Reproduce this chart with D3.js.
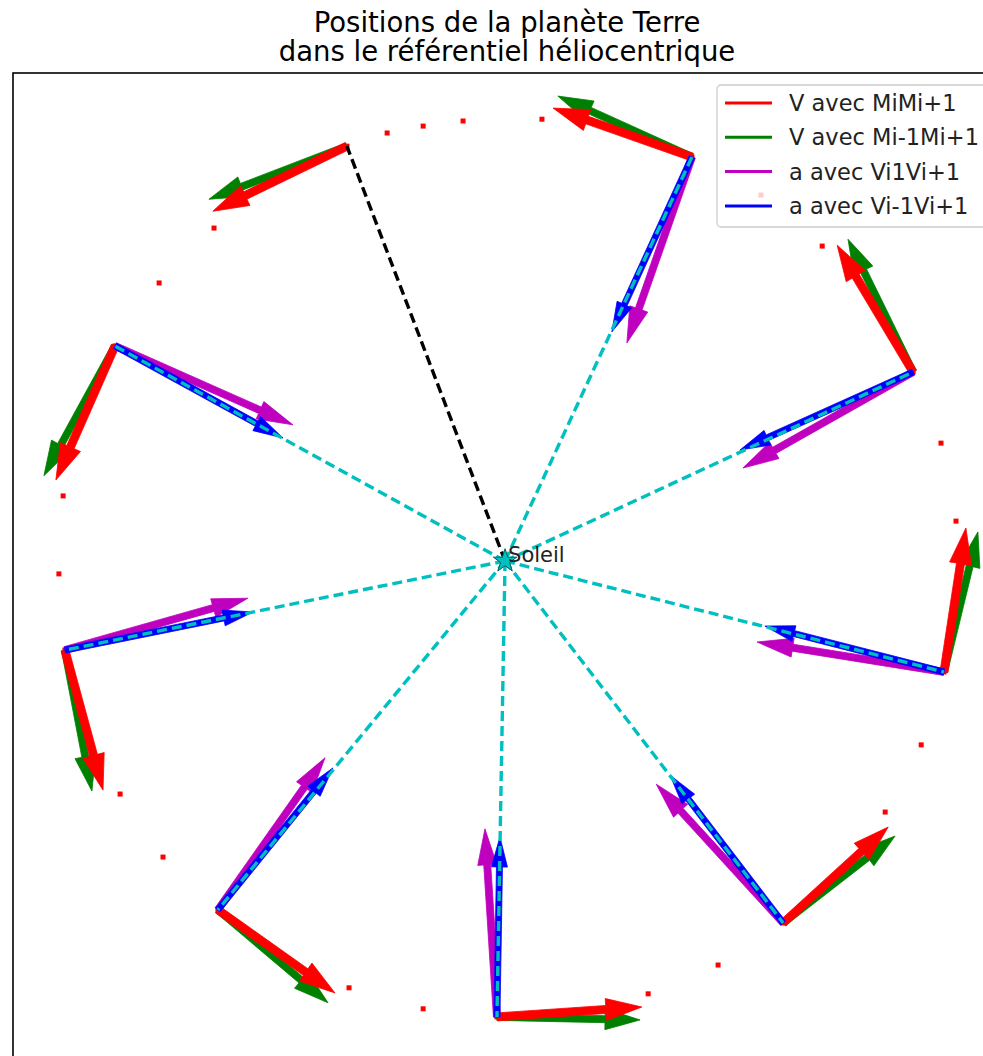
<!DOCTYPE html>
<html>
<head>
<meta charset="utf-8">
<script src="https://cdn.jsdelivr.net/npm/d3@7"></script>
<style>
  body { margin: 0; background: #fff; }
  text { font-family: "DejaVu Sans", sans-serif; }
</style>
</head>
<body>
<div id="chart"></div>
<script>
// positions en Gm (1e9 m), Soleil a l'origine
const soleil = [0, 0];

// positions successives de la Terre (sens trigo)
const orbite = [
  [-52.7, 138.3], [-97.0, 111.0], [-115.3, 92.7], [-130.0, 71.7],
  [-147.3, 21.7], [-148.7, -4.3], [-146.7, -29.7], [-128.3, -77.7],
  [-114.0, -98.7], [-95.7, -116.3], [-52.0, -142.3], [-27.3, -149.3],
  [-2.7, -152.0], [47.7, -144.3], [71.0, -134.7], [92.7, -120.7],
  [126.7, -83.7], [138.7, -61.3], [146.3, -37.0], [150.3, 13.3],
  [145.3, 39.3], [136.0, 63.0], [105.7, 105.0], [85.3, 122.0],
  [62.3, 134.7], [12.3, 147.3], [-14.0, 146.7], [-27.3, 145.0],
  [-39.3, 142.7]
];

// points ou les vecteurs sont traces
const pointsM = [
  [-52.7, 138.3], [-130.0, 71.7], [-146.7, -29.7], [-95.7, -116.3],
  [-2.7, -152.0], [92.7, -120.7], [146.3, -37.0], [136.0, 63.0],
  [62.3, 134.7]
];

// vecteurs (deja mis a l'echelle du trace)
const vMiMi1 = [
  [-44.7, -21.7], [-19.7, -44.7], [12.7, -46.7], [39.0, -27.7],
  [48.3, 3.3], [35.0, 32.0], [7.3, 48.0], [-25.3, 42.3], [-46.3, 16.3]
];
const vMim1Mi1 = [
  [-46.0, -17.7], [-23.7, -43.3], [9.0, -47.0], [36.7, -31.0],
  [47.7, -1.0], [37.3, 29.0], [11.3, 46.7], [-21.7, 44.3], [-44.7, 20.3]
];
const aVi1Vi1 = [
  null, [59.3, -26.3], [61.0, 17.3], [35.7, 50.7],
  [-4.0, 62.7], [-42.3, 46.3], [-62.3, 10.0], [-56.7, -32.0], [-21.7, -62.0]
];
const aVim1Vi1 = [
  null, [56.0, -30.7], [62.7, 12.7], [38.3, 47.3],
  [1.0, 60.0], [-37.7, 49.3], [-59.7, 15.3], [-57.7, -26.0], [-26.7, -58.3]
];

const labels = ["V avec MiMi+1", "V avec Mi-1Mi+1", "a avec Vi1Vi+1", "a avec Vi-1Vi+1"];
const colors = ["#ff0000", "#008000", "#bf00bf", "#0000ff"];

let width = 983,
  height = 1056,
  margin = ({ top: 73, left: 13, right: 1001, bottom: 1061 });

const svg = d3.select("#chart")
  .append("svg")
  .attr("width", width)
  .attr("height", height);

let x = d3.scaleLinear()
  .domain([-164, 165.3])
  .range([margin.left, margin.right]);

let y = d3.scaleLinear()
  .domain([-166.7, 162.7])
  .range([margin.bottom, margin.top]);

// titre
svg.append("text")
  .attr("x", (margin.left + margin.right) / 2)
  .attr("y", 32)
  .attr("text-anchor", "middle")
  .attr("font-size", 27.5)
  .text("Positions de la planète Terre");
svg.append("text")
  .attr("x", (margin.left + margin.right) / 2)
  .attr("y", 61)
  .attr("text-anchor", "middle")
  .attr("font-size", 27.5)
  .text("dans le référentiel héliocentrique");

const plot = svg.append("g");

// fleche style plt.arrow (tete incluse)
function arrowPath(p, v, w, hw, hl) {
  let x0 = x(p[0]), y0 = y(p[1]);
  let x1 = x(p[0] + v[0]), y1 = y(p[1] + v[1]);
  let dx = x1 - x0, dy = y1 - y0;
  let L = Math.hypot(dx, dy);
  let ux = dx / L, uy = dy / L;
  let nx = -uy, ny = ux;
  let h = Math.min(hl, L);
  let bx = x1 - ux * h, by = y1 - uy * h;
  let pts = [
    [x0 + nx * w / 2, y0 + ny * w / 2],
    [bx + nx * w / 2, by + ny * w / 2],
    [bx + nx * hw / 2, by + ny * hw / 2],
    [x1, y1],
    [bx - nx * hw / 2, by - ny * hw / 2],
    [bx - nx * w / 2, by - ny * w / 2],
    [x0 - nx * w / 2, y0 - ny * w / 2]
  ];
  return "M" + pts.map(d => d.join(",")).join("L") + "Z";
}

// positions
plot.selectAll(".pos")
  .data(orbite)
  .join("rect")
  .attr("class", "pos")
  .attr("x", d => x(d[0]) - 2.5)
  .attr("y", d => y(d[1]) - 2.5)
  .attr("width", 5)
  .attr("height", 5)
  .attr("fill", colors[0]);

const styles = [
  { data: vMim1Mi1, color: colors[1], w: 7, hw: 21, hl: 35 },
  { data: vMiMi1, color: colors[0], w: 8, hw: 22, hl: 36 },
  { data: aVi1Vi1, color: colors[2], w: 7, hw: 19, hl: 36 },
  { data: aVim1Vi1, color: colors[3], w: 6, hw: 16, hl: 30 }
];

pointsM.forEach((p, i) => {
  for (let s of styles) {
    if (!s.data[i]) continue;
    plot.append("path")
      .attr("d", arrowPath(p, s.data[i], s.w, s.hw, s.hl))
      .attr("fill", s.color)
      .attr("stroke", s.color)
      .attr("stroke-width", 0.8)
      .attr("stroke-linejoin", "miter");
  }
});

// rayons Soleil -> Terre
pointsM.forEach((p, i) => {
  plot.append("line")
    .attr("x1", x(soleil[0]))
    .attr("y1", y(soleil[1]))
    .attr("x2", x(p[0]))
    .attr("y2", y(p[1]))
    .attr("stroke", i === 0 ? "#000" : "#00bfbf")
    .attr("stroke-width", 3.4)
    .attr("stroke-dasharray", "10,5");
});

// Soleil
plot.append("path")
  .attr("d", d3.symbol(d3.symbolStar, 170)())
  .attr("transform", `translate(${x(soleil[0])},${y(soleil[1])})`)
  .attr("fill", "#00bfbf")
  .attr("stroke", "#006060")
  .attr("stroke-width", 1);

plot.append("text")
  .attr("x", x(soleil[0]) + 3)
  .attr("y", y(soleil[1]) + 1)
  .attr("font-size", 21)
  .attr("fill", "#222")
  .text("Soleil");

// cadre
svg.append("rect")
  .attr("x", margin.left)
  .attr("y", margin.top)
  .attr("width", margin.right - margin.left)
  .attr("height", margin.bottom - margin.top)
  .attr("fill", "none")
  .attr("stroke", "#000")
  .attr("stroke-width", 1.6);

// legende
const legend = svg.append("g")
  .attr("transform", "translate(717,85)");

legend.append("rect")
  .attr("width", 300)
  .attr("height", 142)
  .attr("rx", 4)
  .attr("fill", "#fff")
  .attr("fill-opacity", 0.8)
  .attr("stroke", "#cccccc")
  .attr("stroke-width", 1.3);

labels.forEach((lab, i) => {
  let ly = 18 + i * 34.3;
  legend.append("line")
    .attr("x1", 8)
    .attr("x2", 55)
    .attr("y1", ly)
    .attr("y2", ly)
    .attr("stroke", colors[i])
    .attr("stroke-width", 3);
  legend.append("text")
    .attr("x", 72)
    .attr("y", ly)
    .attr("dominant-baseline", "central")
    .attr("font-size", 22.5)
    .attr("fill", "#222")
    .text(lab);
});
</script>
</body>
</html>
